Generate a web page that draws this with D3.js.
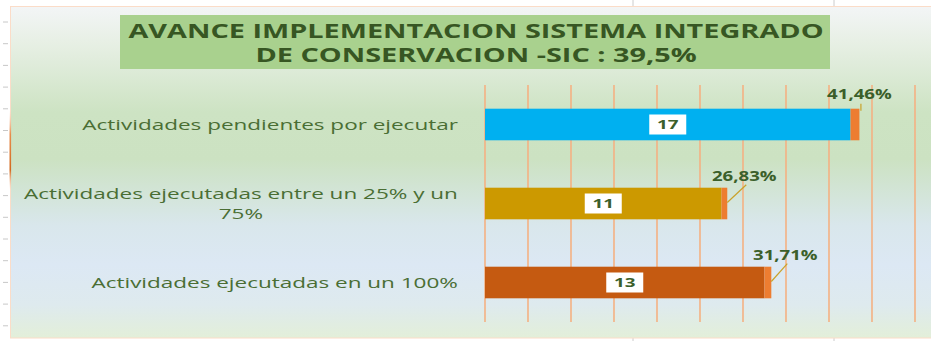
<!DOCTYPE html>
<html>
<head>
<meta charset="utf-8">
<script src="https://cdn.jsdelivr.net/npm/d3@7"></script>
<style>
  html, body { margin: 0; padding: 0; background: #ffffff; }
  svg { display: block; }
</style>
</head>
<body>
<svg id="chart" width="931" height="341"></svg>
<script>
// ---- data ----
const titleLines = ["AVANCE IMPLEMENTACION SISTEMA INTEGRADO", "DE CONSERVACION -SIC : 39,5%"];
const categories = [
  "Actividades pendientes por ejecutar",
  "Actividades ejecutadas entre un 25% y un 75%",
  "Actividades ejecutadas en un 100%"
];
const counts = [17, 11, 13];
const shares = [0.4146, 0.2683, 0.3171];
const shareLabels = ["41,46%", "26,83%", "31,71%"];
const xTicks = [0, 2, 4, 6, 8, 10, 12, 14, 16, 18, 20];

// ---- styling ----
const barColors = ["#00B0F0", "#CC9900", "#C55A11"];
const shareColor = "#ED7D31";
const textGreen = "#3B5F2A";
const labelGreen = "#4A6E34";
const font = "'Open Sans', sans-serif";
const stretch = 1.45;   // text is drawn horizontally widened

const W = 931, H = 341;
const svg = d3.select("#chart");
const defs = svg.append("defs");

const bg = defs.append("linearGradient").attr("id", "bg")
  .attr("x1", 0).attr("y1", 0).attr("x2", 0).attr("y2", 1);
[[0, "#F3F5F6"], [0.12, "#E6EFE3"], [0.32, "#CDE3C3"], [0.46, "#CCE2C2"],
 [0.66, "#D9E7EC"], [0.78, "#DCE8F4"], [0.9, "#DEEAEE"], [1, "#E3EFD9"]]
  .forEach(([o, c]) => bg.append("stop").attr("offset", o).attr("stop-color", c));

const edge = defs.append("linearGradient").attr("id", "edge")
  .attr("x1", 0).attr("y1", 0).attr("x2", 0).attr("y2", 1);
[[0, "#F8CBAD", 0], [0.3, "#E6843F", 0.9], [0.75, "#D2691E", 1], [1, "#F8CBAD", 0]]
  .forEach(([o, c, a]) => edge.append("stop").attr("offset", o).attr("stop-color", c).attr("stop-opacity", a));

// sheet-style ticks outside the panel
const sideTicks = d3.range(22, 330, 21.7);
svg.append("g").selectAll("line").data(sideTicks).join("line")
  .attr("x1", 3).attr("x2", 8).attr("y1", d => d).attr("y2", d => d)
  .attr("stroke", "#C8C8C8").attr("stroke-width", 1);
[633, 834].forEach(xx => {
  svg.append("line").attr("x1", xx).attr("x2", xx).attr("y1", 0).attr("y2", 6)
    .attr("stroke", "#CCCCCC");
  svg.append("line").attr("x1", xx).attr("x2", xx).attr("y1", 338).attr("y2", 341)
    .attr("stroke", "#CCCCCC");
});

// panel
svg.append("rect").attr("x", 10.5).attr("y", 6.5).attr("width", 930).attr("height", 331.5)
  .attr("fill", "url(#bg)").attr("stroke", "#FBDCC8").attr("stroke-width", 1);
svg.append("rect").attr("x", 9.5).attr("y", 110).attr("width", 1.6).attr("height", 80)
  .attr("fill", "url(#edge)");

// title box
const title = svg.append("g");
title.append("rect").attr("x", 120).attr("y", 15).attr("width", 710).attr("height", 54)
  .attr("fill", "#A9D18E");
title.selectAll("text").data(titleLines).join("text")
  .attr("transform", (d, i) => `translate(476,${38 + i * 24}) scale(1.48,1)`)
  .attr("text-anchor", "middle")
  .attr("font-family", font).attr("font-weight", 700)
  .attr("font-size", 19.5).attr("fill", "#375623")
  .text(d => d);

// scales
const x = d3.scaleLinear().domain([0, 20]).range([485, 915]);
const y = d3.scaleBand().domain(categories).range([85, 322])
  .paddingInner(0.6).paddingOuter(0.3);

// gridlines
svg.append("g").selectAll("line").data(xTicks).join("line")
  .attr("x1", d => x(d)).attr("x2", d => x(d))
  .attr("y1", 85).attr("y2", 322)
  .attr("stroke", "#F4B183").attr("stroke-width", 1.6);

// stacked bars: count, then share on top
const rows = categories.map((c, i) => ({ c, n: counts[i], s: shares[i], lab: shareLabels[i], col: barColors[i] }));
const bars = svg.append("g");
bars.selectAll("rect.count").data(rows).join("rect").attr("class", "count")
  .attr("x", x(0)).attr("y", d => y(d.c))
  .attr("width", d => x(d.n) - x(0)).attr("height", y.bandwidth())
  .attr("fill", d => d.col);
bars.selectAll("rect.share").data(rows).join("rect").attr("class", "share")
  .attr("x", d => x(d.n)).attr("y", d => y(d.c))
  .attr("width", d => x(d.n + d.s) - x(d.n)).attr("height", y.bandwidth())
  .attr("fill", shareColor);

// count labels in white boxes
const vl = svg.append("g").selectAll("g").data(rows).join("g")
  .attr("transform", d => `translate(${(x(0) + x(d.n)) / 2},${y(d.c) + y.bandwidth() / 2})`);
vl.append("rect").attr("x", -18.5).attr("y", -10).attr("width", 37).attr("height", 20)
  .attr("fill", "#FFFFFF");
vl.append("text").attr("text-anchor", "middle").attr("dy", "0.36em")
  .attr("transform", `scale(${stretch},1)`)
  .attr("font-family", font).attr("font-weight", 700)
  .attr("font-size", 13).attr("fill", textGreen).text(d => d.n);

// share labels with leader lines
const nudges = [[0, -15], [17, -12], [14, -12]];
const sl = svg.append("g").selectAll("g").data(rows).join("g");
sl.append("line")
  .attr("x1", (d, i) => x(d.n + d.s) + (i === 0 ? 1.5 : 0))
  .attr("y1", (d, i) => i === 0 ? y(d.c) + 2 : y(d.c) + y.bandwidth() / 2 - 1)
  .attr("x2", (d, i) => x(d.n + d.s) + nudges[i][0] + (i === 0 ? 1.5 : 2))
  .attr("y2", (d, i) => y(d.c) + nudges[i][1] + (i === 0 ? 10 : 9))
  .attr("stroke", "#C9A22A").attr("stroke-width", 1.2);
sl.append("text")
  .attr("transform", (d, i) => `translate(${x(d.n + d.s) + nudges[i][0]},${y(d.c) + nudges[i][1]}) scale(1.38,1)`)
  .attr("text-anchor", "middle").attr("dy", "0.36em")
  .attr("font-family", font).attr("font-weight", 700)
  .attr("font-size", 13.5).attr("fill", textGreen).text(d => d.lab);

// category labels, wrapped, right aligned to the axis
const labelRight = 458, wrapWidth = 440, catStretch = 1.5;
const cat = svg.append("g").selectAll("text").data(categories).join("text")
  .attr("font-family", font).attr("font-size", 15)
  .attr("fill", labelGreen).attr("text-anchor", "middle");
cat.each(function (d) {
  const t = d3.select(this);
  const measure = s => { const p = t.append("tspan").text(s); const w = p.node().getComputedTextLength() * catStretch; p.remove(); return w; };
  const words = d.split(" ");
  const lines = [];
  let cur = [];
  words.forEach(w => {
    if (cur.length && measure([...cur, w].join(" ")) > wrapWidth) {
      lines.push(cur.join(" "));
      cur = [w];
    } else cur.push(w);
  });
  lines.push(cur.join(" "));
  const maxW = d3.max(lines, measure);
  const cx = labelRight - maxW / 2;
  const lh = 20;
  const y0 = y(d) + y.bandwidth() / 2 - (lines.length - 1) * lh / 2;
  t.attr("transform", `translate(${cx},${y0}) scale(${catStretch},1)`);
  lines.forEach((l, i) => t.append("tspan").attr("x", 0).attr("y", i * lh).attr("dy", "0.36em").text(l));
});
</script>
</body>
</html>
